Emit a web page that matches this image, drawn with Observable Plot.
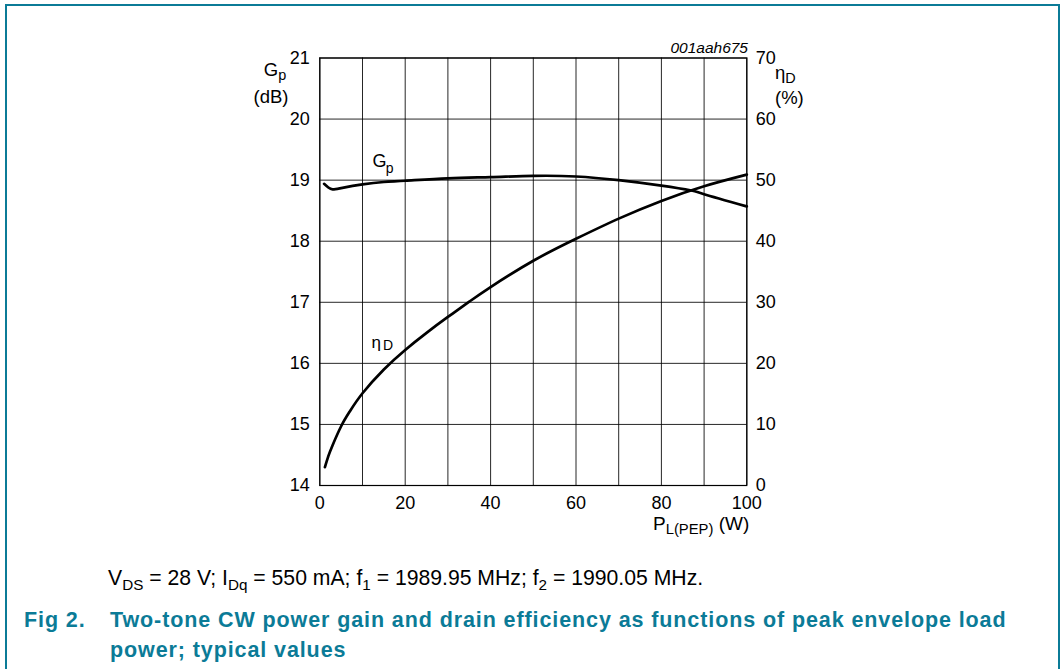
<!DOCTYPE html>
<html>
<head>
<meta charset="utf-8">
<script src="https://cdn.jsdelivr.net/npm/d3@7"></script>
<script src="https://cdn.jsdelivr.net/npm/@observablehq/plot@0.6"></script>
<style>
  html, body { margin: 0; padding: 0; background: #fff; }
  body { width: 1061px; height: 669px; position: relative; overflow: hidden; font-family: "Liberation Sans", Arial, Helvetica, sans-serif; }
  #frame { position: absolute; left: 5px; top: 4px; width: 1055px; height: 700px; border: 2px solid #0b7b97; box-sizing: border-box; }
  #chart { position: absolute; left: 0; top: 0; }
  .lbl { position: absolute; color: #000; white-space: nowrap; line-height: 1; }
  .lbl sub { font-size: 0.78em; vertical-align: -0.3em; line-height: 0; }
  #caption { position: absolute; left: 108px; top: 566px; font-size: 21.2px; color: #000; white-space: nowrap; }
  #caption sub { font-size: 0.72em; vertical-align: -0.35em; line-height: 0; }
  #figno { position: absolute; left: 24px; top: 605px; font-size: 21.5px; font-weight: bold; color: #0b7b97; line-height: 30px; letter-spacing: 0.9px; }
  #title { position: absolute; left: 110px; top: 605px; width: 940px; font-size: 21.5px; font-weight: bold; color: #0b7b97; line-height: 30px; letter-spacing: 0.9px; }
</style>
</head>
<body>
<div id="frame"></div>
<div id="chart"></div>
<div class="lbl" style="left:250px; top:61px; font-size:18.5px; text-align:center; width:50px;">G<sub>p</sub></div>
<div class="lbl" style="left:250px; top:88px; font-size:18.5px; text-align:center; width:42px;">(dB)</div>
<div class="lbl" style="left:775px; top:64px; font-size:18.5px;">η<sub>D</sub></div>
<div class="lbl" style="left:775px; top:89px; font-size:18.5px;">(%)</div>
<div class="lbl" style="left:653px; top:514px; font-size:19px;">P<sub>L(PEP)</sub> (W)</div>
<div class="lbl" style="left:648px; top:40px; width:100px; text-align:right; font-size:15.5px; font-style:italic;">001aah675</div>
<div id="caption">V<sub>DS</sub> = 28 V; I<sub>Dq</sub> = 550 mA; f<sub>1</sub> = 1989.95 MHz; f<sub>2</sub> = 1990.05 MHz.</div>
<div id="figno">Fig 2.</div>
<div id="title">Two-tone CW power gain and drain efficiency as functions of peak envelope load power; typical values</div>
<script>
// Data
const gainP = [1, 2, 3, 5, 10, 15, 20, 30, 40, 50, 60, 70, 80, 87, 90, 100];
const gainDb = [18.94, 18.88, 18.85, 18.87, 18.93, 18.97, 18.99, 19.03, 19.05, 19.07, 19.06, 19.0, 18.91, 18.83, 18.77, 18.57];
const effP = [1.2, 2, 3, 5, 7, 10, 15, 20, 25, 30, 35, 40, 50, 60, 70, 80, 90, 100];
const effPct = [3.0, 4.8, 6.6, 9.7, 12.1, 15.1, 19.0, 22.2, 25.0, 27.6, 30.1, 32.5, 36.8, 40.4, 43.7, 46.6, 49.0, 50.9];
const xTicks = [0, 10, 20, 30, 40, 50, 60, 70, 80, 90, 100];
const xTickLabels = [0, 20, 40, 60, 80, 100];
const gainTicks = [14, 15, 16, 17, 18, 19, 20, 21];
const effTicks = [0, 10, 20, 30, 40, 50, 60, 70];

// Map efficiency (%) onto the gain axis (0..70 % <-> 14..21 dB)
const effToGain = d3.scaleLinear().domain([0, 70]).range([14, 21]);

const gainData = gainP.map((p, i) => ({p, v: gainDb[i]}));
const effData = effP.map((p, i) => ({p, v: effToGain(effPct[i])}));

const W = 1061, H = 545;
const FS = 18;
const chart = Plot.plot({
  width: W,
  height: H,
  marginLeft: 319.3,
  marginRight: W - 746.3,
  marginTop: 57.5,
  marginBottom: H - 485,
  x: {domain: [0, 100]},
  y: {domain: [14, 21]},
  style: {fontFamily: '"Liberation Sans", Arial, Helvetica, sans-serif', fontSize: FS + "px", background: "transparent", color: "#000"},
  marks: [
    Plot.gridX(xTicks, {stroke: "#000", strokeOpacity: 0.85, strokeWidth: 1}),
    Plot.gridY(gainTicks, {stroke: "#000", strokeOpacity: 0.85, strokeWidth: 1}),
    Plot.frame({stroke: "#000", strokeWidth: 1.2}),
    Plot.axisX(xTickLabels, {tickSize: 0, tickPadding: 11, label: null, fontSize: FS, tickFormat: d => String(d)}),
    Plot.axisY(gainTicks, {anchor: "left", tickSize: 0, tickPadding: 10, label: null, fontSize: FS, tickFormat: d => String(d)}),
    Plot.axisY(gainTicks, {anchor: "right", tickSize: 0, tickPadding: 9, label: null, fontSize: FS,
      tickFormat: (d, i) => String(effTicks[i])}),
    Plot.line(gainData, {x: "p", y: "v", stroke: "#000", strokeWidth: 2.7, curve: "natural"}),
    Plot.line(effData, {x: "p", y: "v", stroke: "#000", strokeWidth: 2.7, curve: "natural"}),
    Plot.text(["G"], {x: 14, y: 19.31, text: d => d, fontSize: 18, textAnchor: "middle"}),
    Plot.text(["p"], {x: 14, y: 19.31, text: d => d, fontSize: 14, dx: 10, dy: 7, textAnchor: "middle"}),
    Plot.text(["η"], {x: 13.2, y: 16.34, text: d => d, fontSize: 17, textAnchor: "middle"}),
    Plot.text(["D"], {x: 13.2, y: 16.34, text: d => d, fontSize: 14, dx: 12, dy: 3, textAnchor: "middle"})
  ]
});
document.getElementById("chart").appendChild(chart);
</script>
</body>
</html>
